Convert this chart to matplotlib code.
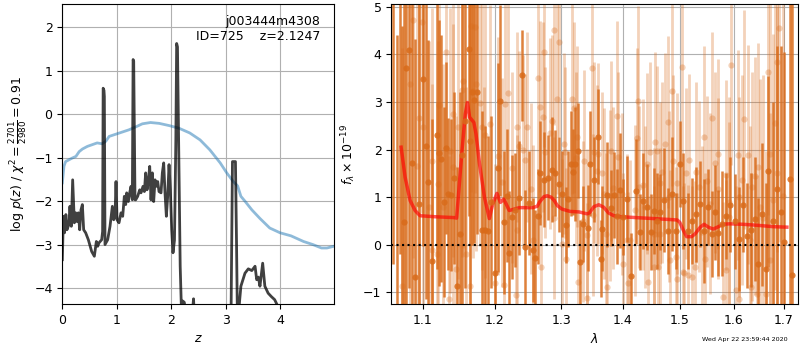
import matplotlib
matplotlib.use("Agg")
import matplotlib.pyplot as plt
from matplotlib.ticker import NullLocator, NullFormatter, FixedLocator, FixedFormatter

plt.rcParams['font.size'] = 9

# ---- redshift probability panel -------------------------------------------
z_pz = [0.00, 0.02, 0.04, 0.065, 0.085, 0.12, 0.14, 0.165, 0.19, 0.221, 0.246, 0.27,
        0.294, 0.319, 0.343, 0.368, 0.392, 0.429, 0.478, 0.539, 0.588, 0.625, 0.65,
        0.674, 0.723, 0.740, 0.750, 0.765, 0.772, 0.784, 0.833, 0.876, 0.919, 0.943,
        0.968, 0.986, 1.005, 1.041, 1.078, 1.109, 1.139, 1.164, 1.182, 1.213, 1.237,
        1.262, 1.286, 1.300, 1.311, 1.335, 1.348, 1.384, 1.421, 1.445, 1.482, 1.507,
        1.531, 1.556, 1.58, 1.605, 1.629, 1.654, 1.678, 1.703, 1.727, 1.752, 1.776,
        1.813, 1.837, 1.862, 1.886, 1.911, 1.935, 1.96, 1.984, 2.009, 2.033, 2.06,
        2.085, 2.10, 2.115, 2.14, 2.165, 2.19, 2.21, 2.24, 2.27, 2.35, 2.40, 2.41,
        2.43, 2.60, 2.90, 3.08, 3.10, 3.125, 3.18, 3.20, 3.215, 3.235, 3.28, 3.355,
        3.416, 3.48, 3.54, 3.57, 3.60, 3.63, 3.68, 3.72, 3.78, 3.84, 3.90, 3.95,
        4.05, 4.30, 4.99]
logpz = [-3.35, -2.35, -2.73, -2.31, -2.66, -2.54, -2.12, -2.58, -1.51, -2.50, -2.27,
         -2.47, -2.27, -2.66, -2.20, -2.08, -2.66, -2.73, -2.89, -3.16, -3.27, -2.93,
         -3.04, -2.96, -2.89, -2.70, 0.60, 0.55, 0.41, -3.00, -2.89, -2.58, -2.12,
         -2.43, -2.35, -1.55, -2.43, -2.50, -2.27, -2.35, -1.89, -2.08, -1.81, -2.01,
         -1.81, -1.66, -1.97, 1.26, 1.22, -1.97, -1.97, -1.89, -1.74, -1.81, -1.66,
         -1.78, -1.35, -1.74, -1.55, -1.20, -1.97, -1.35, -2.01, -1.51, -1.66, -1.55,
         -1.78, -1.81, -1.35, -1.12, -1.81, -2.35, -1.89, -1.16, -1.74, -2.66, -3.19,
         -2.90, -0.60, 1.63, 1.55, -1.00, -3.50, -4.60, -4.30, -4.33, -4.60, -4.80,
         -4.40, -4.25, -4.80, -6.00, -6.00, -6.00, -4.50, -1.09, -1.09, -3.00, -4.60,
         -4.60, -3.96, -3.66, -3.56, -3.60, -3.50, -3.81, -3.75, -3.96, -3.43, -3.96,
         -4.12, -4.20, -4.27, -4.40, -5.00, -6.00, -7.00]

z_chi = [0.00, 0.03, 0.06, 0.12, 0.18, 0.25, 0.31, 0.37, 0.46, 0.55, 0.64, 0.73, 0.80,
         0.86, 0.98, 1.10, 1.22, 1.35, 1.47, 1.62, 1.78, 1.96, 2.14, 2.34, 2.53, 2.71,
         2.90, 3.02, 3.14, 3.22, 3.28, 3.36, 3.48, 3.63, 3.81, 4.00, 4.20, 4.43, 4.60,
         4.76, 4.86, 4.99]
chi_curve = [-1.58, -1.20, -1.09, -1.05, -1.01, -0.97, -0.86, -0.80, -0.74, -0.70,
             -0.66, -0.68, -0.62, -0.51, -0.46, -0.41, -0.36, -0.29, -0.22, -0.19,
             -0.21, -0.26, -0.32, -0.43, -0.59, -0.82, -1.12, -1.35, -1.55, -1.65,
             -1.89, -2.01, -2.20, -2.40, -2.62, -2.73, -2.80, -2.93, -3.00, -3.08,
             -3.08, -3.04]

z_ticks = [0, 1, 2, 3, 4]
pz_yticks = [-4, -3, -2, -1, 0, 1, 2]

# ---- spectrum panel --------------------------------------------------------
wave_a = [1.062, 1.066, 1.070, 1.073,
          1.0757, 1.0783, 1.0826, 1.0865, 1.090, 1.0956, 1.100, 1.104, 1.107, 1.112,
          1.1187, 1.122, 1.124, 1.128, 1.132, 1.134, 1.138, 1.142, 1.147, 1.150, 1.154,
          1.158, 1.163, 1.165, 1.167, 1.170, 1.175, 1.181, 1.186, 1.190, 1.195, 1.200,
          1.205, 1.208, 1.214, 1.218, 1.221, 1.225, 1.230, 1.235, 1.240, 1.245, 1.250,
          1.256, 1.260, 1.264, 1.267, 1.273, 1.279, 1.285, 1.290, 1.296, 1.301, 1.307,
          1.311, 1.316, 1.318, 1.322, 1.326, 1.329, 1.335, 1.342, 1.346, 1.353, 1.358,
          1.363, 1.366, 1.373, 1.380, 1.386, 1.390, 1.395, 1.400, 1.407, 1.4147, 1.4222,
          1.429, 1.435, 1.441, 1.448, 1.453, 1.459, 1.4645, 1.4715, 1.478, 1.485, 1.492,
          1.4995, 1.506, 1.514, 1.521, 1.529, 1.537, 1.544, 1.552, 1.558, 1.564, 1.571,
          1.577, 1.585, 1.593, 1.602, 1.610, 1.618, 1.626, 1.633, 1.641, 1.647, 1.655,
          1.663, 1.668, 1.677, 1.685, 1.693, 1.700, 1.712, 1.717]
flux_a = [5.6, -1.6, 5.8, -1.4,
          0.47, 3.72, 4.09, 1.72, -0.68, 0.86, 3.48, 2.07, 1.31, -0.35, 2.30, 1.93, 1.81,
          0.90, 2.03, 1.07, 1.05, 1.40, -0.87, 0.22, 1.89, 2.60, 4.11, 2.17, 3.20, 3.04,
          3.22, 0.30, 0.30, 0.28, 0.90, -0.59, 1.62, 3.03, 0.47, 1.03, -0.17, 0.58, 0.73,
          0.98, 3.56, -0.05, 0.88, -0.11, -0.27, 0.60, 1.51, 1.37, 1.41, 1.58, 1.51, 1.27,
          1.06, 0.42, 0.96, 1.70, 1.53, 1.69, 1.98, -0.37, 0.44, 0.35, 1.70, 1.37, 2.27,
          -0.29, 0.34, 1.05, 0.77, 1.04, 0.60, 1.14, 0.58, 0.96, -0.66, 1.12, 0.27, 0.92,
          0.80, 0.26, 0.71, 0.50, 0.68, 0.94, 0.29, 1.06, 0.29, 1.69, 0.92, 0.29, 0.50,
          0.64, 0.85, 0.29, 0.80, 0.22, 0.68, 0.24, 0.44, 0.61, 0.84, 0.49, 0.12, 0.84,
          0.19, 0.31, 0.54, -0.41, 0.64, -0.51, 1.54, 0.50, 1.17, 0.68, 0.05, 1.38, -0.64]
err_a = [6.0, 6.0, 6.0, 6.0,
         5.0, 5.0, 5.0, 5.0, 5.0, 4.5, 3.5, 3.2, 3.0, 3.0, 2.8, 2.8, 2.6, 2.0, 1.8, 1.6,
         1.6, 1.8, 2.5, 3.0, 3.2, 3.5, 3.5, 3.5, 3.2, 3.0, 3.0, 2.5, 2.2, 2.0, 1.8, 1.6,
         2.2, 2.0, 1.5, 1.4, 1.3, 1.3, 1.2, 1.2, 0.95, 1.2, 1.1, 1.1, 1.0, 1.0, 1.1, 1.0,
         0.9, 1.1, 0.9, 1.0, 0.9, 0.8, 1.0, 1.1, 0.9, 1.2, 1.0, 0.9, 0.8, 0.9, 1.1, 0.9,
         1.0, 0.8, 0.9, 1.1, 0.8, 0.9, 1.0, 1.2, 0.8, 0.9, 0.9, 1.1, 0.8, 1.0, 0.9, 0.8,
         0.9, 1.0, 0.8, 1.1, 0.9, 1.2, 0.8, 0.9, 1.0, 0.8, 0.9, 1.0, 0.9, 1.1, 0.8, 0.9,
         1.0, 0.9, 1.1, 0.9, 1.0, 1.0, 1.1, 1.0, 1.1, 1.2, 1.3, 1.4, 1.5, 1.8, 2.0, 2.5,
         3.0, 3.5, 4.0, 6.0, 6.0]

wave_b = [1.0726, 1.0835, 1.0868, 1.092, 1.0956, 1.0986, 1.1004, 1.109, 1.112, 1.112,
          1.119, 1.121, 1.122, 1.127, 1.1313, 1.135, 1.137, 1.1407, 1.141, 1.145, 1.148,
          1.1533, 1.155, 1.159, 1.1648, 1.166, 1.169, 1.171, 1.173, 1.179, 1.181, 1.184,
          1.186, 1.1935, 1.200, 1.204, 1.211, 1.214, 1.215, 1.219, 1.225, 1.231, 1.232,
          1.233, 1.236, 1.241, 1.244, 1.248, 1.254, 1.257, 1.264, 1.267, 1.268, 1.271,
          1.273, 1.275, 1.282, 1.285, 1.288, 1.289, 1.294, 1.297, 1.301, 1.304, 1.306,
          1.308, 1.317, 1.320, 1.323, 1.325, 1.327, 1.334, 1.336, 1.341, 1.341, 1.349,
          1.351, 1.352, 1.357, 1.359, 1.365, 1.368, 1.372, 1.373, 1.379, 1.381, 1.383,
          1.390, 1.392, 1.399, 1.400, 1.407, 1.408, 1.413, 1.420, 1.4235, 1.426, 1.428,
          1.435, 1.438, 1.441, 1.444, 1.447, 1.453, 1.454, 1.455, 1.459, 1.461, 1.4645,
          1.4645, 1.467, 1.473, 1.478, 1.480, 1.482, 1.485, 1.488, 1.493, 1.495, 1.495,
          1.503, 1.506, 1.508, 1.511, 1.515, 1.517, 1.522, 1.5275, 1.529, 1.535, 1.540,
          1.543, 1.546, 1.550, 1.555, 1.558, 1.564, 1.571, 1.571, 1.580, 1.585, 1.586,
          1.591, 1.592, 1.595, 1.604, 1.609, 1.611, 1.611, 1.616, 1.620, 1.628, 1.631,
          1.634, 1.636, 1.641, 1.645, 1.648, 1.651, 1.658, 1.663, 1.668, 1.671, 1.672,
          1.678, 1.681, 1.685, 1.686, 1.690, 1.698]
flux_b = [-0.87, 3.38, 4.72, 1.66, 2.66, 4.67, 2.47, 0.79, -0.12, 1.77, -0.19, 1.28,
          2.93, 0.79, 4.06, -1.13, 1.98, 2.75, 1.64, -0.50, 2.47, 3.25, 3.44, -0.19,
          -0.87, 4.60, 3.23, 4.58, 3.37, 2.97, 2.47, 0.31, 2.30, 2.54, -0.81, 1.87, 1.31,
          -0.84, 2.96, 3.18, 1.62, -1.05, 2.47, 0.31, 2.08, 1.99, 1.78, 2.47, 1.18, 0.10,
          3.50, 2.90, -0.47, 2.69, 4.06, 1.94, 2.34, 2.60, 4.51, 0.57, 3.06, 4.26, 0.01,
          2.12, 1.94, -0.29, 3.06, 2.88, 1.82, 2.27, -0.79, 0.49, 1.77, 0.21, -1.12,
          3.71, 0.62, 1.94, 1.56, 1.91, 1.50, 1.07, 0.23, -0.89, 1.03, 1.97, 1.19, 2.71,
          1.84, 1.07, -0.40, 0.10, -0.80, 0.09, 0.72, 2.24, 3.02, 1.22, 1.26, 0.79, 1.70,
          -0.78, 1.94, -0.47, 0.23, 2.15, 1.96, -0.47, 1.30, 0.23, 1.52, 2.12, 2.58, 1.01,
          -0.33, 3.23, 1.77, -0.26, -0.71, 1.29, 3.74, -0.57, -0.60, 1.50, -0.64, 1.79,
          -0.67, -0.47, 1.52, 1.22, 0.27, 2.27, -0.29, 1.33, 0.86, 2.66, 1.72, 1.91,
          1.18, -1.10, -0.54, 1.46, 0.58, 0.90, 3.78, -0.96, 1.89, -1.13, 1.01, 1.36,
          2.64, 1.89, 0.09, -0.89, 1.22, 1.45, -1.03, 1.64, 0.79, 0.56, -1.03, 3.62,
          -0.33, 1.91, 0.93, 2.55, 1.50, 3.84, 4.55, 1.03]
err_b = [5.0, 5.0, 5.0, 4.5, 4.5, 4.0, 4.0, 3.5, 3.5, 3.2, 3.2, 3.0, 3.0, 3.0, 3.0, 3.0,
         3.0, 3.0, 3.0, 3.2, 3.2, 3.5, 3.5, 3.5, 3.5, 3.5, 3.5, 3.5, 3.5, 3.0, 3.0, 3.0,
         3.0, 2.5, 2.5, 2.5, 2.2, 2.2, 2.2, 2.2, 2.0, 2.0, 2.0, 2.0, 2.0, 2.0, 1.8, 2.0,
         1.8, 2.0, 2.0, 1.8, 1.9, 2.0, 2.0, 1.8, 2.0, 1.8, 2.0, 1.7, 2.0, 2.0, 1.8, 1.9,
         1.8, 1.9, 2.0, 1.8, 1.8, 1.9, 1.8, 1.7, 1.9, 1.8, 2.0, 2.0, 1.7, 1.9, 1.8, 1.9,
         1.7, 1.8, 1.7, 1.9, 1.8, 1.9, 1.7, 2.0, 1.8, 1.7, 1.9, 1.8, 1.9, 1.7, 1.8, 1.9,
         2.0, 1.7, 1.8, 1.7, 1.9, 1.8, 1.9, 1.7, 1.8, 1.9, 1.8, 1.9, 1.7, 1.8, 1.9, 1.9,
         1.8, 1.8, 1.9, 2.0, 1.8, 1.9, 1.8, 1.9, 2.0, 1.8, 1.9, 1.8, 1.9, 1.8, 1.9, 1.8,
         1.9, 1.8, 1.8, 1.9, 1.8, 1.8, 1.9, 1.8, 1.9, 2.0, 1.9, 2.0, 1.9, 2.0, 2.0, 2.2,
         2.1, 2.2, 2.2, 2.2, 2.1, 2.2, 2.3, 2.3, 2.4, 2.4, 2.4, 2.5, 2.5, 2.6, 2.7, 3.0,
         3.0, 3.0, 3.1, 3.3, 3.5, 3.5, 3.5, 4.0, 4.5, 5.0]

model_wave = [1.0718, 1.077, 1.0835, 1.090, 1.0965, 1.115, 1.143, 1.146, 1.153, 1.158,
              1.161, 1.164, 1.170, 1.173, 1.178, 1.185, 1.192, 1.197, 1.203, 1.208,
              1.213, 1.221, 1.226, 1.236, 1.244, 1.256, 1.263, 1.266, 1.273, 1.278,
              1.284, 1.289, 1.294, 1.301, 1.314, 1.328, 1.341, 1.345, 1.352, 1.360,
              1.368, 1.376, 1.385, 1.395, 1.4235, 1.453, 1.482, 1.495, 1.4995, 1.506,
              1.512, 1.521, 1.5275, 1.537, 1.544, 1.552, 1.561, 1.571, 1.580, 1.592,
              1.618, 1.645, 1.678, 1.706]
model_flux = [2.05, 1.42, 0.93, 0.72, 0.61, 0.59, 0.57, 0.56, 1.91, 2.75, 2.99, 2.68,
              2.57, 2.33, 1.70, 1.00, 0.55, 0.86, 1.08, 0.89, 0.96, 0.72, 0.74, 0.78,
              0.78, 0.78, 0.81, 0.89, 1.01, 1.03, 1.00, 0.93, 0.82, 0.75, 0.70, 0.69,
              0.65, 0.67, 0.80, 0.84, 0.79, 0.67, 0.61, 0.59, 0.57, 0.55, 0.53, 0.52,
              0.47, 0.30, 0.17, 0.17, 0.23, 0.37, 0.43, 0.37, 0.33, 0.38, 0.43, 0.44,
              0.43, 0.41, 0.38, 0.37]

wave_ticks = [1.1, 1.2, 1.3, 1.4, 1.5, 1.6, 1.7]
wave_labels = ['1.1', '1.2', '1.3', '1.4', '1.5', '1.6', '1.7']
flux_yticks = [-1, 0, 1, 2, 3, 4, 5]

orange = '#d96b1a'

fig = plt.figure(figsize=(8, 3.5), dpi=100)
ax1 = fig.add_axes([0.0779, 0.1314, 0.3396, 0.856])
ax2 = fig.add_axes([0.4891, 0.1314, 0.5078, 0.856])

# p(z) and chi2 curves
ax1.plot(z_chi, chi_curve, color='#1f77b4', alpha=0.5, lw=2)
ax1.plot(z_pz, logpz, color='k', alpha=0.75, lw=2)
ax1.set_xlim(0, 4.99)
ax1.set_ylim(-4.37, 2.53)
ax1.set_xticks(z_ticks)
ax1.set_yticks(pz_yticks)
ax1.grid()
ax1.set_xlabel('$z$')
ax1.set_ylabel(r'log $p(z)$ / $\chi^2=\frac{2701}{2980}=0.91$')
ax1.text(0.95, 0.965, 'j003444m4308\nID=725    z=2.1247', ha='right', va='top',
         transform=ax1.transAxes, fontsize=9)

# 1D spectra with errors and the best-fit model
ax2.errorbar(wave_b, flux_b, yerr=err_b, fmt='o', color=orange, alpha=0.3,
             ms=4.5, mew=0, elinewidth=2.0, capsize=0)
ax2.errorbar(wave_a, flux_a, yerr=err_a, fmt='o', color=orange, alpha=0.85,
             ms=4.5, mew=0, elinewidth=1.8, capsize=0)
ax2.plot(model_wave, model_flux, color='r', alpha=0.65, lw=2.5)
ax2.axhline(0, color='k', linestyle=':', lw=1.5)

ax2.set_xscale('log')
ax2.xaxis.set_major_locator(FixedLocator(wave_ticks))
ax2.xaxis.set_major_formatter(FixedFormatter(wave_labels))
ax2.xaxis.set_minor_locator(NullLocator())
ax2.xaxis.set_minor_formatter(NullFormatter())
ax2.set_xlim(1.0592, 1.728)
ax2.set_ylim(-1.245, 5.05)
ax2.set_yticks(flux_yticks)
ax2.grid()
ax2.set_xlabel(r'$\lambda$')
ax2.set_ylabel(r'$f_\lambda\times10^{-19}$')

fig.text(0.984, 0.031, 'Wed Apr 22 23:59:44 2020', ha='right', va='center', fontsize=4.6)

fig.savefig('out.png', dpi=100)
